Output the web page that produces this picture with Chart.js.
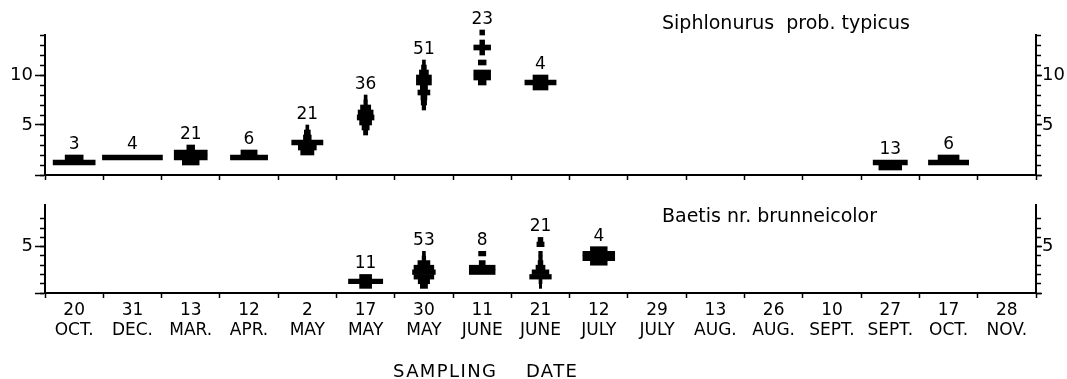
<!DOCTYPE html>
<html>
<head>
<meta charset="utf-8">
<title>Size-frequency by sampling date</title>
<script src="https://cdn.jsdelivr.net/npm/chart.js@4.4.0/dist/chart.umd.min.js"></script>
<style>
  body { margin: 0; background: #fff; }
  canvas { display: block; }
</style>
</head>
<body>
<canvas id="siphChart" width="1067" height="185"></canvas>
<canvas id="baetChart" width="1067" height="194"></canvas>
<script>
// Sampling dates shared by both panels
const SAMPLE_DAYS = ['20', '31', '13', '12', '2', '17', '30', '11', '21', '12', '29', '13', '26', '10', '27', '17', '28'];
const SAMPLE_MONTHS = ['OCT.', 'DEC.', 'MAR.', 'APR.', 'MAY', 'MAY', 'MAY', 'JUNE', 'JUNE', 'JULY', 'JULY', 'AUG.', 'AUG.', 'SEPT.', 'SEPT.', 'OCT.', 'NOV.'];

// Siphlonurus prob. typicus: number measured, size-class midpoints, % of sample per class
const SIPH_N = [3, 4, 21, 6, 21, 36, 51, 23, 4, null, null, null, null, null, 13, 6, null];
const SIPH_SIZE = [
  [1.25, 1.75],
  [1.75],
  [1.25, 1.75, 2.25, 2.75],
  [1.75, 2.25],
  [2.25, 2.75, 3.25, 3.75, 4.25, 4.75],
  [4.25, 4.75, 5.25, 5.75, 6.25, 6.75, 7.25, 7.75],
  [6.75, 7.25, 7.75, 8.25, 8.75, 9.25, 9.75, 10.25, 10.75, 11.25],
  [9.25, 9.75, 10.25, 11.25, 12.25, 12.75, 13.25, 14.25],
  [8.75, 9.25, 9.75],
  [], [], [], [], [],
  [0.75, 1.25],
  [1.25, 1.75],
  []
];
const SIPH_PCT = [
  [70, 30],
  [100],
  [28, 55, 55, 13],
  [62, 27],
  [22, 30, 52, 13, 10, 5],
  [7, 12, 20, 28, 25, 17, 6, 5],
  [6, 9, 10, 20, 12, 25, 25, 15, 8, 5],
  [13, 28, 28, 13, 8, 28, 8, 8],
  [25, 52, 25],
  [], [], [], [], [],
  [38, 57],
  [67, 35],
  []
];

// Baetis nr. brunneicolor
const BAET_N = [null, null, null, null, null, 11, 53, 8, 21, 4, null, null, null, null, null, null, null];
const BAET_SIZE = [
  [], [], [], [], [],
  [0.75, 1.25, 1.75],
  [0.75, 1.25, 1.75, 2.25, 2.75, 3.25, 3.75, 4.25],
  [2.25, 2.75, 3.25, 4.25],
  [0.75, 1.25, 1.75, 2.25, 2.75, 3.25, 3.75, 4.25, 5.25, 5.75],
  [3.25, 3.75, 4.25, 4.75],
  [], [], [], [], [], [], []
];
const BAET_PCT = [
  [], [], [], [], [],
  [20, 57, 20],
  [12, 19, 33, 38, 33, 20, 6, 5],
  [43, 43, 10, 12],
  [4, 5, 36, 28, 15, 8, 6, 6, 12, 8],
  [28, 53, 53, 28],
  [], [], [], [], [], [], []
];

const SIPH_Y_MAX = 14;
const BAET_Y_MAX = 9.5;
const MAJOR_STEP = 5;

const CLASS_HALF = 0.25;   // classes are 0.5 wide, keyed by midpoint
const FULL_WIDTH = 1.03;   // a 100 % class is slightly wider than one date slot
const INK = '#000';
const FONT_FAMILY = "'DejaVu Sans', sans-serif";

// One horizontal floating bar per size class, centred on its date slot
function kiteBars(sizes, pcts) {
  const bars = [];
  sizes.forEach((classes, i) => {
    const centre = i + 0.5;
    classes.forEach((size, j) => {
      const half = pcts[i][j] / 100 * FULL_WIDTH / 2;
      bars.push({ x: [centre - half, centre + half], y: size });
    });
  });
  return bars;
}

function fixWidth(w) {
  return function(scale) {
    scale.width = w;
    scale.paddingTop = 0;
    scale.paddingBottom = 0;
  };
}

function fixHeight(h) {
  return function(scale) {
    scale.height = h;
    scale.paddingLeft = 0;
    scale.paddingRight = 0;
  };
}

const isMajor = v => v % MAJOR_STEP === 0;

// Minor (every unit) and major (every 5, labelled) ticks on both sides
function sizeAxes(yMax) {
  const base = {
    type: 'linear', axis: 'y', min: 0, max: yMax, bounds: 'data', offset: false,
    border: { display: true, color: INK, width: 2 }
  };
  const minorGrid = {
    offset: false, drawOnChartArea: false, tickLength: 5, tickWidth: 1.5,
    tickColor: ctx => Number.isInteger(ctx.tick.value) ? INK : 'rgba(0,0,0,0)'
  };
  const majorGrid = len => ({
    offset: false, drawOnChartArea: false, tickLength: len, tickWidth: 1.5,
    tickColor: ctx => isMajor(ctx.tick.value) ? INK : 'rgba(0,0,0,0)'
  });
  const majorTicks = pad => ({
    stepSize: MAJOR_STEP, padding: pad, color: INK,
    font: { family: FONT_FAMILY, size: 18 },
    callback: v => (v > 0 && isMajor(v)) ? String(v) : ''
  });
  return {
    yMinorL: { ...base, position: 'left', weight: 0, grid: minorGrid,
      ticks: { stepSize: 1, display: false }, afterFit: fixWidth(0) },
    yMajorL: { ...base, position: 'left', weight: 1, grid: majorGrid(10),
      ticks: majorTicks(2), afterFit: fixWidth(45) },
    yMinorR: { ...base, position: 'right', weight: 0, grid: minorGrid,
      ticks: { stepSize: 1, display: false }, afterFit: fixWidth(0) },
    yMajorR: { ...base, position: 'right', weight: 1, grid: majorGrid(6),
      ticks: majorTicks(0), afterFit: fixWidth(31) }
  };
}

// Sample counts above each kite, plus the species name and axis title
const kiteLabelPlugin = {
  id: 'kiteLabels',
  afterDatasetsDraw(chart, args, opts) {
    const { ctx, chartArea, scales } = chart;
    const xs = scales.x;
    const ys = scales.yMinorL;
    ctx.save();
    ctx.fillStyle = INK;
    ctx.textBaseline = 'alphabetic';

    ctx.font = `17px ${FONT_FAMILY}`;
    ctx.textAlign = 'center';
    opts.counts.forEach((n, i) => {
      if (n == null) return;
      const top = Math.max(...opts.sizes[i]) + CLASS_HALF;
      ctx.fillText(String(n), xs.getPixelForValue(i + 0.5), ys.getPixelForValue(top) - 6);
    });

    ctx.font = `19px ${FONT_FAMILY}`;
    ctx.textAlign = 'left';
    ctx.fillText(opts.species, chartArea.right - 374, chartArea.top + opts.nameDy);

    if (opts.axisTitle) {
      ctx.font = `18px ${FONT_FAMILY}`;
      ctx.letterSpacing = '1.4px';
      ctx.fillText(opts.axisTitle, chartArea.left + 348, chartArea.bottom + 84);
    }
    ctx.restore();
  }
};

function renderKiteChart(canvasId, cfg) {
  const dateLabels = SAMPLE_DAYS.map((d, i) => [d, SAMPLE_MONTHS[i]]);
  return new Chart(document.getElementById(canvasId), {
    type: 'bar',
    data: {
      datasets: [{
        data: kiteBars(cfg.sizes, cfg.pcts),
        backgroundColor: INK,
        borderWidth: 0,
        barPercentage: 1,
        categoryPercentage: 1,
        clip: false,
        xAxisID: 'x',
        yAxisID: 'yMinorL'
      }]
    },
    options: {
      indexAxis: 'y',
      responsive: false,
      animation: false,
      devicePixelRatio: 1,
      layout: { padding: { top: cfg.padTop, left: 0, right: 0, bottom: 0 } },
      plugins: {
        legend: { display: false },
        tooltip: { enabled: false },
        kiteLabels: {
          counts: cfg.counts, sizes: cfg.sizes, species: cfg.species,
          nameDy: cfg.nameDy, axisTitle: cfg.axisTitle
        }
      },
      scales: {
        x: { type: 'linear', axis: 'x', min: 0, max: SAMPLE_DAYS.length, display: false },
        xDates: {
          type: 'category', axis: 'x', position: 'bottom', labels: dateLabels,
          offset: true,
          border: { display: true, color: INK, width: 2 },
          grid: { offset: true, drawOnChartArea: false, tickLength: 5, tickWidth: 1.5, tickColor: INK },
          ticks: {
            display: cfg.showDates, autoSkip: false, maxRotation: 0, padding: 2, color: INK,
            font: { family: FONT_FAMILY, size: 17, lineHeight: 1.2 }
          },
          afterFit: fixHeight(cfg.xAxisHeight)
        },
        ...sizeAxes(cfg.yMax)
      }
    },
    plugins: [kiteLabelPlugin]
  });
}

renderKiteChart('siphChart', {
  counts: SIPH_N, sizes: SIPH_SIZE, pcts: SIPH_PCT, yMax: SIPH_Y_MAX,
  species: 'Siphlonurus  prob. typicus', nameDy: -6,
  padTop: 35, xAxisHeight: 10, showDates: false
});

renderKiteChart('baetChart', {
  counts: BAET_N, sizes: BAET_SIZE, pcts: BAET_PCT, yMax: BAET_Y_MAX,
  species: 'Baetis nr. brunneicolor', nameDy: 17,
  padTop: 20, xAxisHeight: 86, showDates: true,
  axisTitle: 'SAMPLING    DATE'
});
</script>
</body>
</html>
